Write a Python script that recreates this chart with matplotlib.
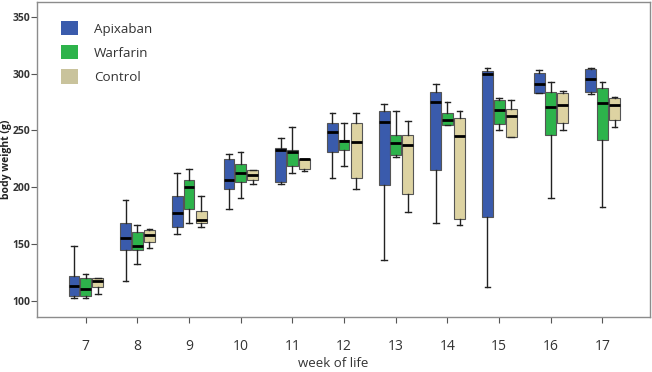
import matplotlib
matplotlib.use("Agg")
import matplotlib.pyplot as plt
from matplotlib.patches import Patch

weeks = ["7", "8", "9", "10", "11", "12", "13", "14", "15", "16", "17"]
groups = ["Apixaban", "Warfarin", "Control"]

# per week: whislo, q1, median, q3, whishi
apixaban = [
    [102.4, 104.5, 113.5, 122.3, 148.5],
    [118.0, 144.5, 155.0, 168.5, 188.5],
    [158.8, 164.7, 177.3, 192.6, 212.6],
    [180.6, 198.5, 206.7, 224.6, 229.0],
    [203.0, 204.7, 232.9, 234.7, 243.0],
    [208.5, 230.8, 248.8, 256.7, 265.0],
    [136.0, 202.3, 257.0, 266.7, 273.0],
    [168.5, 215.5, 275.0, 283.7, 291.0],
    [112.0, 173.6, 299.3, 302.0, 305.0],
    [282.8, 282.8, 291.0, 300.8, 303.3],
    [282.0, 283.7, 295.0, 304.3, 305.0],
]
warfarin = [
    [102.4, 104.4, 110.3, 120.6, 123.8],
    [132.3, 144.4, 148.5, 160.3, 166.4],
    [168.5, 181.0, 200.5, 206.4, 216.4],
    [190.6, 205.0, 212.9, 220.8, 230.8],
    [212.6, 218.5, 230.8, 232.6, 252.9],
    [218.5, 232.6, 240.5, 242.0, 256.7],
    [226.7, 228.2, 239.1, 246.4, 266.7],
    [254.4, 254.4, 259.0, 264.9, 274.9],
    [250.6, 255.8, 267.6, 276.7, 278.8],
    [190.2, 245.8, 270.8, 283.7, 292.9],
    [182.6, 241.7, 274.4, 287.3, 292.9],
]
control = [
    [106.2, 112.0, 117.3, 120.6, 120.6],
    [146.7, 152.0, 158.2, 162.6, 162.9],
    [164.7, 168.5, 171.5, 178.8, 192.3],
    [202.9, 206.7, 210.5, 215.0, 215.0],
    [214.7, 216.4, 224.5, 225.0, 225.0],
    [198.6, 208.5, 239.8, 256.7, 264.9],
    [178.2, 194.1, 237.6, 246.4, 258.5],
    [166.4, 172.3, 245.5, 260.8, 266.7],
    [244.6, 244.6, 262.6, 268.5, 277.0],
    [250.6, 256.7, 272.0, 282.8, 284.6],
    [252.9, 258.8, 272.0, 278.8, 279.0],
]
colors = ["#3A5BAC", "#2DB34B", "#DDD3A2"]
legend_colors = ["#3A5BAC", "#2DB34B", "#C9C39C"]

plt.rcParams['font.family'] = ['Open Sans', 'DejaVu Sans']

fig = plt.figure(figsize=(6.52, 3.72), dpi=100)
ax = fig.add_axes([37/652, 1 - 317/372, 613/652, 315.5/372])

offsets = [-0.225, 0.0, 0.235]
width = 0.21
for data, col, off in zip([apixaban, warfarin, control], colors, offsets):
    stats = []
    for row in data:
        stats.append(dict(whislo=row[0], q1=row[1], med=row[2], q3=row[3],
                          whishi=row[4], fliers=[]))
    pos = [i + off for i in range(len(weeks))]
    ax.bxp(stats, positions=pos, widths=width, capwidths=0.11,
           patch_artist=True, showfliers=False, manage_ticks=False,
           boxprops=dict(facecolor=col, edgecolor="#555555", linewidth=0.8),
           medianprops=dict(color="black", linewidth=2.0),
           whiskerprops=dict(color="#222222", linewidth=1.0),
           capprops=dict(color="#222222", linewidth=1.0))

ax.set_xlim(-0.94, 10.92)
ax.set_ylim(85.9, 363.4)
ax.set_xticks(range(len(weeks)))
ax.set_xticklabels(weeks, fontsize=10, color="#333333")
ax.set_yticks([100, 150, 200, 250, 300, 350])
ax.set_yticklabels(["100", "150", "200", "250", "300", "350"], fontsize=7.5,
                   fontweight="bold", color="#333333")
ax.tick_params(axis="x", length=4, color="#555555", pad=11.5)
ax.tick_params(axis="y", length=4, color="#555555", pad=1)
for s in ax.spines.values():
    s.set_color("#8c8c8c")
    s.set_linewidth(1.0)

ax.set_xlabel("week of life", fontsize=9.5, color="#333333")
ax.xaxis.set_label_coords(0.483, -0.127)
ax.set_ylabel("body weight (g)", fontsize=7.5, fontweight="bold", color="#222222")
ax.yaxis.set_label_coords(-0.040, 0.5)

handles = [Patch(facecolor=c, edgecolor="none") for c in legend_colors]
ax.legend(handles, groups, loc="upper left",
          bbox_to_anchor=(24/613, 1 - 19.5/315.5), borderpad=0, borderaxespad=0,
          frameon=False, fontsize=9.6, handlelength=1.27, handleheight=1.27,
          handletextpad=1.2, labelspacing=0.72, labelcolor="#333333")

fig.savefig("out.png", dpi=100)
